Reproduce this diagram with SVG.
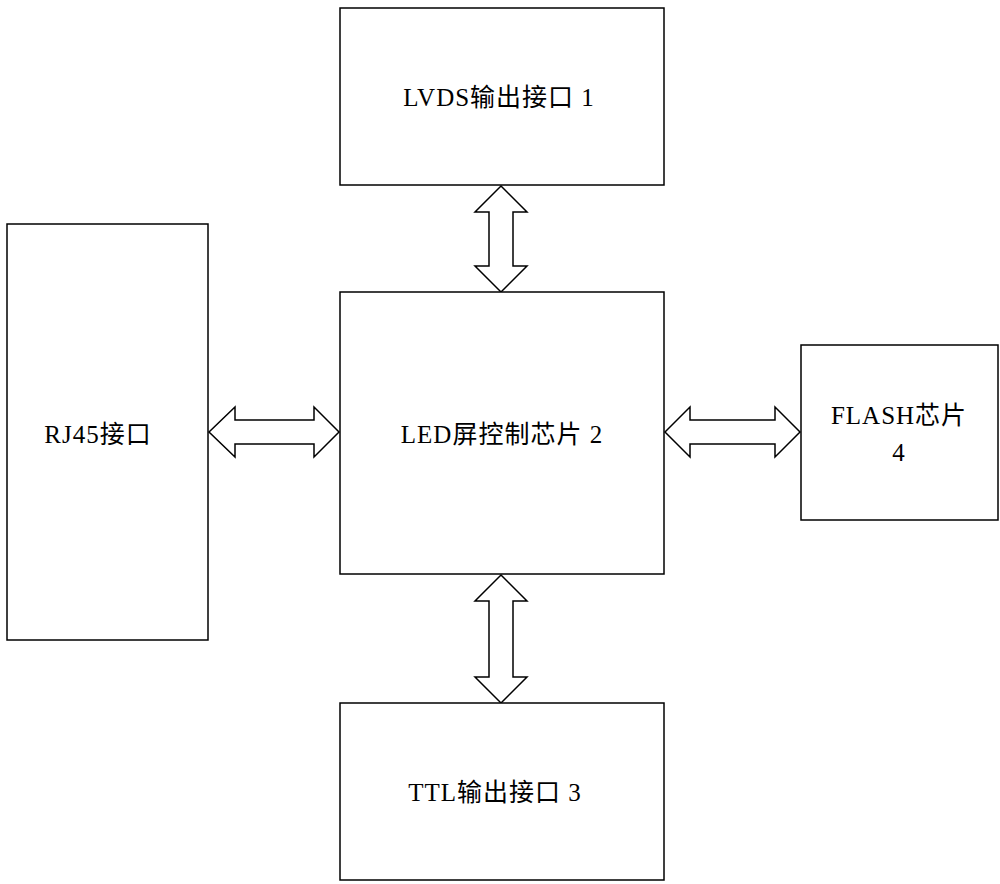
<svg xmlns="http://www.w3.org/2000/svg" width="1000" height="884" viewBox="0 0 1000 884">
<style>
.b{fill:#fff;stroke:#000;stroke-width:1.5}
.a{fill:#fff;stroke:#000;stroke-width:1.5;stroke-linejoin:miter}
text{font-family:"Liberation Serif","Noto Sans CJK SC",serif;font-size:25px;letter-spacing:1px;fill:#000;text-anchor:middle}
</style>
<rect width="1000" height="884" fill="#fff"/>
<g id="connectors">
<polygon class="a" points="501,186 527,212 513,212 513,266 527,266 501,292 475,266 489,266 489,212 475,212"/>
<polygon class="a" points="501,575 527,601 513,601 513,677 527,677 501,703 475,677 489,677 489,601 475,601"/>
<polygon class="a" points="209,432 235,407 235,420 314,420 314,407 339,432 314,457 314,444 235,444 235,457"/>
<polygon class="a" points="665,432 690,407 690,420 775,420 775,407 800,432 775,457 775,444 690,444 690,457"/>
</g>
<g id="lvds"><rect class="b" x="340" y="8" width="324" height="177"/><text x="499" y="106">LVDS输出接口 1</text></g>
<g id="led"><rect class="b" x="340" y="292" width="324" height="282"/><text x="502" y="443">LED屏控制芯片 2</text></g>
<g id="ttl"><rect class="b" x="340" y="703" width="324" height="177"/><text x="495" y="801">TTL输出接口 3</text></g>
<g id="rj45"><rect class="b" x="7" y="224" width="201" height="416"/><text x="98" y="443">RJ45接口</text></g>
<g id="flash"><rect class="b" x="801" y="345" width="197" height="175"/><text x="899" y="424">FLASH芯片</text><text x="899" y="461">4</text></g>
</svg>
